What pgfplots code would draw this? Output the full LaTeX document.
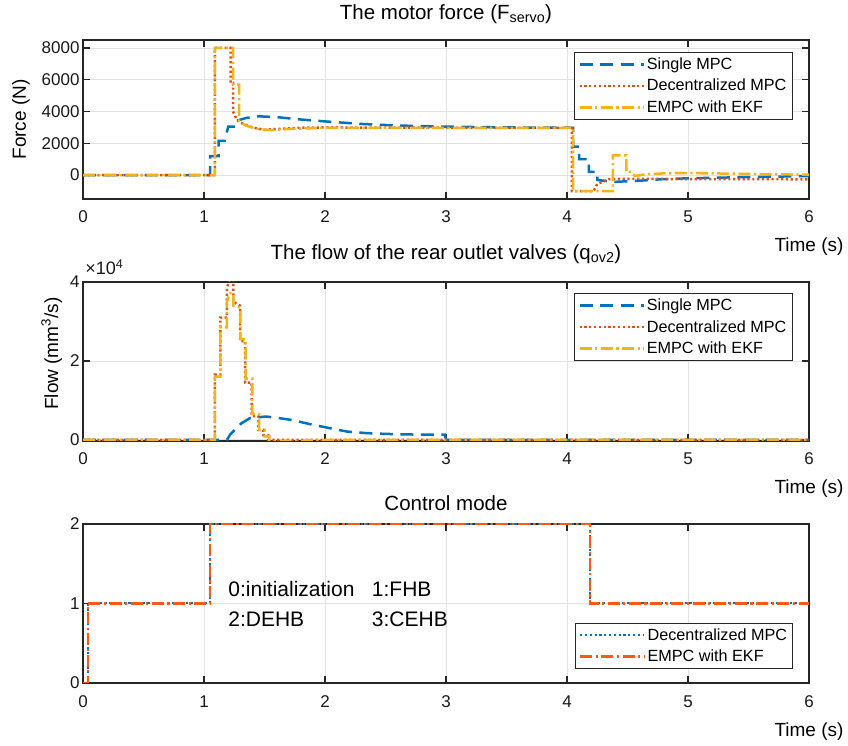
\documentclass[border=0pt]{standalone}
\usepackage{pgfplots}
\pgfplotsset{compat=1.18}
\usepackage{fontspec}
\setmainfont{Liberation Sans}
\definecolor{mblue}{RGB}{0,114,189}
\definecolor{morange}{RGB}{217,83,25}
\definecolor{myellow}{RGB}{245,178,25}
\definecolor{mred}{RGB}{250,90,20}
\definecolor{axcol}{RGB}{38,38,38}
\definecolor{gridcol}{RGB}{226,226,226}
\newcommand{\tickfont}{\fontsize{17bp}{20bp}\selectfont}
\newcommand{\labfont}{\fontsize{19bp}{22bp}\selectfont}
\newcommand{\titfont}{\fontsize{20.5bp}{24bp}\selectfont}
\newcommand{\legfont}{\fontsize{16.2bp}{19bp}\selectfont}
\newcommand{\annfont}{\fontsize{21bp}{25bp}\selectfont}
\pgfplotsset{
  common/.style={
    scale only axis, width=726bp, height=159bp,
    xmin=0, xmax=6, xtick={0,1,2,3,4,5,6},
    clip mode=individual,
    tick align=inside, major tick length=7bp,
    xtick pos=both, ytick pos=both,
    axis line style={axcol, line width=1.3bp},
    every tick/.style={axcol, line width=1.3bp},
    grid=major, major grid style={gridcol, line width=0.8bp},
    ticklabel style={font=\tickfont, text=black!90},
    xticklabel style={anchor=base, yshift=-24bp},
    /pgf/number format/assume math mode=true,
    /pgf/number format/1000 sep={},
    xlabel={Time (s)},
    xlabel style={at={(axis description cs:1,0)}, anchor=base, yshift=-53bp, font=\labfont},
    ylabel style={font=\labfont},
    title style={font=\titfont, anchor=base},
    legend cell align=left,
    legend style={draw=axcol, line width=0.8bp, fill=white, font=\legfont,
      inner xsep=3.5bp, inner ysep=3.5bp, row sep=4.2bp},
    legend image code/.code={\draw[#1] (0bp,0bp) -- (64bp,0bp);},
  },
  sdash/.style={mblue, line width=2.5bp, dash pattern=on 13bp off 7.5bp},
  sdot/.style={morange, line width=2.5bp, dash pattern=on 2.2bp off 2.6bp},
  sdd/.style={myellow, line width=2.5bp, dash pattern=on 12bp off 3.5bp on 2.2bp off 3.5bp},
}
\begin{document}
\begin{tikzpicture}
\path[use as bounding box] (0,0) rectangle (848bp,746bp);
% ---------- Axis 1: motor force
\begin{axis}[common, at={(83bp,547bp)}, anchor=south west,
  ymin=-1500, ymax=8500, ytick={0,2000,4000,6000,8000},
  ylabel={Force (N)},
  ylabel style={at={(axis description cs:-0.0855,0.5)}, anchor=center},
  title={The motor force (F\textsubscript{servo})},
  title style={at={(axis description cs:0.5,1)}, yshift=15bp},
  legend style={at={(axis description cs:0.977,0.925)}, anchor=north east},
]
\addplot[sdash] coordinates {(0,0)(1.05,0)(1.05,1200)(1.12,1200)(1.12,2150)(1.17,2150)(1.20,3050)(1.26,3050)(1.26,3400)(1.35,3600)(1.45,3700)(1.6,3650)(1.8,3500)(2.0,3380)(2.3,3220)(2.6,3120)(3.0,3050)(3.5,3000)(4.05,2980)(4.05,1800)(4.1,1800)(4.1,1000)(4.18,1000)(4.18,200)(4.25,200)(4.25,-300)(4.3,-350)(4.4,-420)(4.6,-350)(4.8,-250)(5.0,-200)(5.5,-120)(6,-60)};
\addlegendentry{Single MPC}
\addplot[sdot] coordinates {(0,0)(1.09,0)(1.09,8000)(1.22,8000)(1.22,5800)(1.24,5800)(1.24,4000)(1.27,3500)(1.3,3300)(1.4,3000)(1.5,2850)(1.6,2900)(1.8,2980)(2.0,3000)(3,2980)(4.04,2970)(4.04,-1000)(4.22,-1000)(4.25,-550)(4.35,-250)(4.5,-230)(5,-250)(6,-260)};
\addlegendentry{Decentralized MPC}
\addplot[sdd] coordinates {(0,0)(1.09,0)(1.09,8000)(1.24,8000)(1.24,5700)(1.29,5700)(1.29,3400)(1.35,3100)(1.45,2900)(1.55,2830)(1.7,2900)(2,2980)(3,2980)(4.05,2970)(4.05,-1000)(4.38,-1000)(4.38,1250)(4.49,1250)(4.49,200)(4.53,200)(4.56,-50)(4.65,50)(4.8,110)(5.0,130)(5.3,100)(5.7,50)(6,30)};
\addlegendentry{EMPC with EKF}
\end{axis}
% ---------- Axis 2: flow
\begin{axis}[common, at={(83bp,305bp)}, anchor=south west,
  ymin=-300, ymax=40000, ytick={0,20000,40000}, yticklabels={0,2,4},
  scaled y ticks=false,
  ylabel={Flow (mm\textsuperscript{3}/s)},
  ylabel style={at={(axis description cs:-0.043,0.55)}, anchor=center},
  title={The flow of the rear outlet valves (q\textsubscript{ov2})},
  title style={at={(axis description cs:0.5,1)}, yshift=17bp},
  legend style={at={(axis description cs:0.977,0.931)}, anchor=north east},
]
\addplot[sdash] coordinates {(0,0)(1.19,0)(1.22,1500)(1.31,4200)(1.38,5500)(1.51,5900)(1.6,5600)(1.73,5000)(1.9,3800)(2.04,2950)(2.18,2100)(2.34,1700)(2.5,1500)(2.7,1350)(2.99,1300)(3.0,0)(6,0)};
\addlegendentry{Single MPC}
\addplot[sdot] coordinates {(0,0)(1.09,0)(1.09,16500)(1.135,16500)(1.135,31000)(1.19,31000)(1.19,38500)(1.21,40500)(1.243,40500)(1.243,35000)(1.298,34000)(1.298,25000)(1.34,25000)(1.34,14500)(1.394,14500)(1.394,6000)(1.449,6000)(1.449,2500)(1.49,2500)(1.49,1200)(1.53,1200)(1.53,0)(6,0)};
\addlegendentry{Decentralized MPC}
\addplot[sdd] coordinates {(0,0)(1.09,0)(1.09,16000)(1.135,16000)(1.135,28500)(1.19,28500)(1.19,35000)(1.21,37200)(1.243,37200)(1.243,34000)(1.3,33500)(1.3,25500)(1.345,25500)(1.345,15500)(1.4,15500)(1.4,6500)(1.455,6500)(1.455,2500)(1.5,2500)(1.5,900)(1.54,900)(1.54,-300)(1.8,-300)(1.9,0)(6,0)};
\addlegendentry{EMPC with EKF}
\node[anchor=base west, inner sep=0pt, font=\fontsize{18bp}{21bp}\selectfont, text=black!90, yshift=7bp] at (axis description cs:0.003,1) {×10\textsuperscript{4}};
\end{axis}
% ---------- Axis 3: control mode
\begin{axis}[common, at={(83bp,63bp)}, anchor=south west,
  ymin=0, ymax=2, ytick={0,1,2},
  title={Control mode},
  title style={at={(axis description cs:0.5,1)}, yshift=8bp},
  legend style={at={(axis description cs:0.978,0.088)}, anchor=south east},
]
\addplot[mblue, line width=2bp, dash pattern=on 2.2bp off 2.6bp] coordinates {(0,0)(0.04,0)(0.04,1)(1.05,1)(1.05,2)(4.19,2)(4.19,1)(6,1)};
\addlegendentry{Decentralized MPC}
\addplot[mred, line width=2.6bp, dash pattern=on 12bp off 3.5bp on 2.2bp off 3.5bp] coordinates {(0,0)(0.04,0)(0.04,1)(1.05,1)(1.05,2)(4.19,2)(4.19,1)(6,1)};
\addlegendentry{EMPC with EKF}
\node[anchor=base west, inner sep=0pt, font=\annfont] at (axis cs:1.2,1.094) {0:initialization};
\node[anchor=base west, inner sep=0pt, font=\annfont] at (axis cs:2.386,1.094) {1:FHB};
\node[anchor=base west, inner sep=0pt, font=\annfont] at (axis cs:1.2,0.708) {2:DEHB};
\node[anchor=base west, inner sep=0pt, font=\annfont] at (axis cs:2.386,0.708) {3:CEHB};
\end{axis}
\end{tikzpicture}
\end{document}
